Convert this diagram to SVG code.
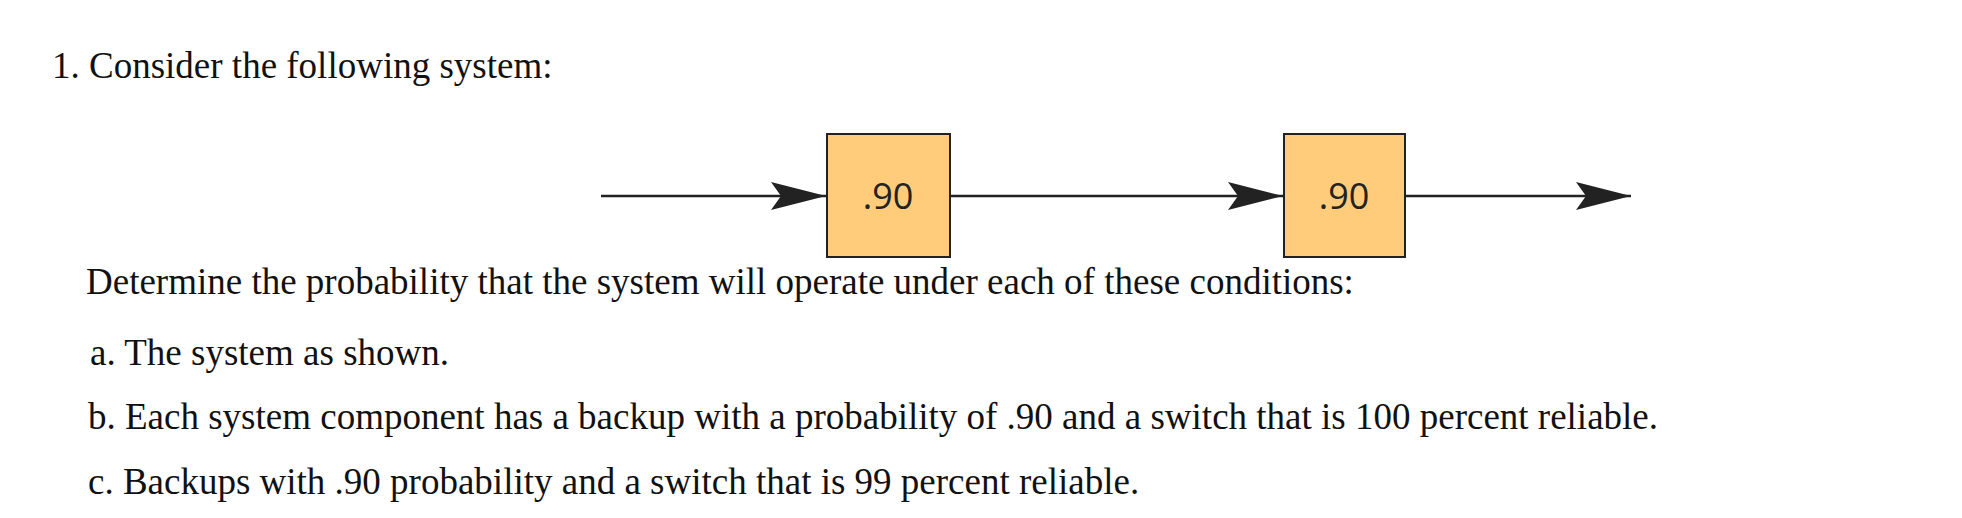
<svg xmlns="http://www.w3.org/2000/svg" width="1962" height="518" viewBox="0 0 1962 518">
<style>
.t{font-family:"Liberation Serif",serif;font-size:37px;fill:#111}
.box{fill:#FECC7A;stroke:#222;stroke-width:2}
.lbl{font-family:"Open Sans",sans-serif;font-size:36px;fill:#222;text-anchor:middle}
.ln{stroke:#222;stroke-width:2.5;fill:none}
</style>
<defs>
<marker id="ah" markerUnits="userSpaceOnUse" markerWidth="56" markerHeight="32" refX="55" refY="16" orient="auto">
<path d="M0,2 L55,16 L0,30 L10,16 Z" fill="#222"/>
</marker>
</defs>
<rect width="1962" height="518" fill="#fff"/>
<text class="t" x="52" y="78">1. Consider the following system:</text>
<g id="connectors">
<line class="ln" x1="601" y1="196" x2="826" y2="196" marker-end="url(#ah)"/>
<line class="ln" x1="951" y1="196" x2="1283" y2="196" marker-end="url(#ah)"/>
<line class="ln" x1="1406" y1="196" x2="1631" y2="196" marker-end="url(#ah)"/>
</g>
<g id="node1"><rect class="box" x="827" y="134" width="123" height="123"/><text class="lbl" x="888" y="209">.90</text></g>
<g id="node2"><rect class="box" x="1284" y="134" width="121" height="123"/><text class="lbl" x="1344" y="209">.90</text></g>
<text class="t" x="86" y="294">Determine the probability that the system will operate under each of these conditions:</text>
<text class="t" x="90" y="365">a. The system as shown.</text>
<text class="t" x="88" y="429">b. Each system component has a backup with a probability of .90 and a switch that is 100 percent reliable.</text>
<text class="t" x="88" y="494">c. Backups with .90 probability and a switch that is 99 percent reliable.</text>
</svg>
